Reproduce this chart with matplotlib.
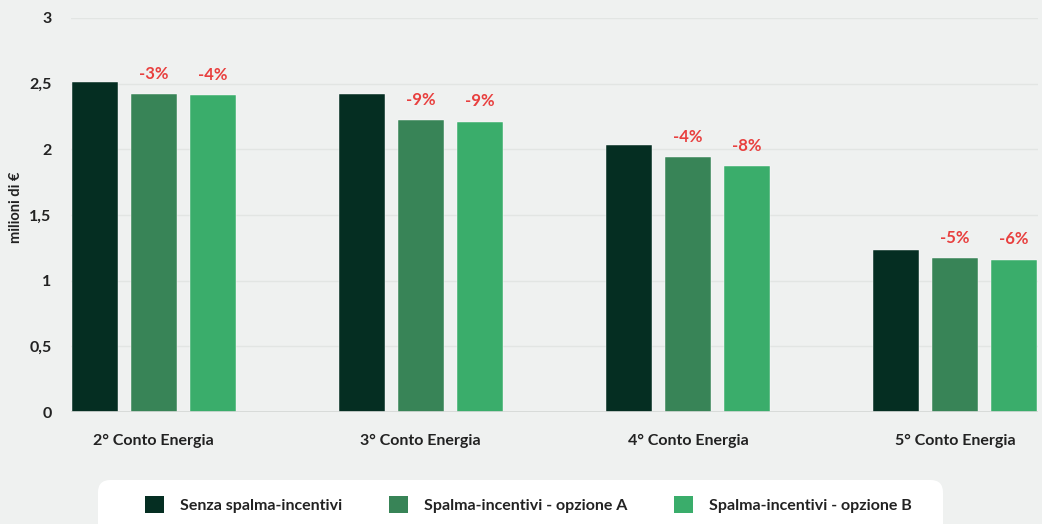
import matplotlib
matplotlib.use("Agg")
import matplotlib.pyplot as plt
from matplotlib.patches import FancyBboxPatch, Patch
import numpy as np

categories = ["2° Conto Energia", "3° Conto Energia", "4° Conto Energia", "5° Conto Energia"]
series_names = ["Senza spalma-incentivi", "Spalma-incentivi - opzione A", "Spalma-incentivi - opzione B"]
senza = [2.51, 2.42, 2.03, 1.23]
opzione_a = [2.42, 2.22, 1.94, 1.17]
opzione_b = [2.41, 2.21, 1.87, 1.16]
labels_a = ["-3%", "-9%", "-4%", "-5%"]
labels_b = ["-4%", "-9%", "-8%", "-6%"]
yticks = [0, 0.5, 1, 1.5, 2, 2.5, 3]
ytick_labels = ["0", "0,5", "1", "1,5", "2", "2,5", "3"]

colors = ["#052e22", "#388457", "#3aad6b"]
bg = "#eff1f0"
red = "#e8403f"
txt = "#222222"

plt.rcParams["font.family"] = ["Lato", "DejaVu Sans"]
plt.rcParams["font.weight"] = "bold"

fig = plt.figure(figsize=(10.42, 5.24), dpi=100)
fig.patch.set_facecolor(bg)
ax = fig.add_axes([0.068, 0.2137, 0.928, 0.752])
ax.set_facecolor(bg)

x = np.arange(len(categories))
width = 0.172
step = 0.221
data = [senza, opzione_a, opzione_b]
bars = []
for i, vals in enumerate(data):
    b = ax.bar(x + (i - 1) * step, vals, width, color=colors[i], zorder=3,
               edgecolor="#ffffff", linewidth=0.3)
    bars.append(b)

for rects, labs in [(bars[1], labels_a), (bars[2], labels_b)]:
    for r, lab in zip(rects, labs):
        ax.annotate(lab, (r.get_x() + r.get_width() / 2, r.get_height()),
                    xytext=(0, 9), textcoords="offset points", ha="center", va="bottom",
                    color=red, fontsize=12, fontweight="bold")

ax.set_xlim(-0.31, 3.31)
ax.set_ylim(0, 3)
ax.set_yticks(yticks)
ax.set_yticklabels(ytick_labels)
ax.set_xticks(x)
ax.set_xticklabels(categories)
ax.tick_params(axis="y", length=0, pad=14, labelsize=11.5, labelcolor=txt)
ax.tick_params(axis="x", length=0, pad=16, labelsize=11.5, labelcolor=txt)
ax.grid(axis="y", color="#e2e5e3", linewidth=1, zorder=0)
ax.axhline(0, color="#d5d8d6", linewidth=1.2, zorder=4)
for s in ax.spines.values():
    s.set_visible(False)
ax.set_ylabel("milioni di €", fontsize=10.5, fontweight="bold", color=txt)
ax.yaxis.set_label_coords(-0.049, 0.52)

box = FancyBboxPatch((0.094, -0.05), 0.811, 0.134, transform=fig.transFigure,
                     boxstyle="round,pad=0,rounding_size=0.012", facecolor="white",
                     edgecolor="none", mutation_aspect=2)
fig.patches.append(box)
handles = [Patch(facecolor=c, edgecolor="none") for c in colors]
fig.legend(handles, series_names, loc="center", bbox_to_anchor=(0.507, 0.037), ncol=3,
           frameon=False, fontsize=11.5, handlelength=1.2, handleheight=1.2,
           handletextpad=1.0, columnspacing=2.9, labelcolor=txt)

fig.savefig("out.png", dpi=100, facecolor=bg)
